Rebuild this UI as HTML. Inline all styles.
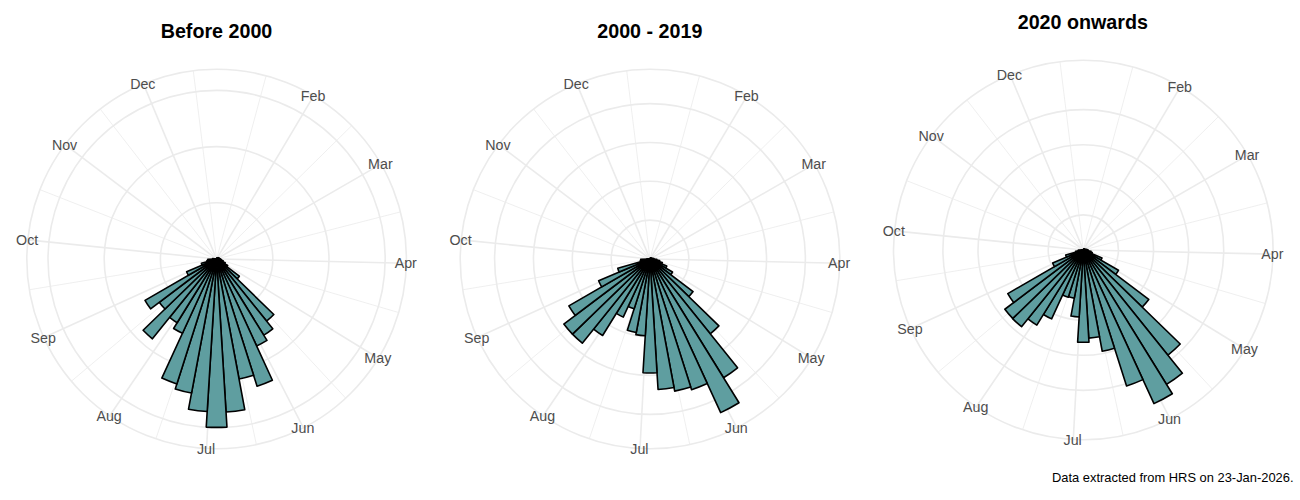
<!DOCTYPE html>
<html><head><meta charset="utf-8"><title>Polar charts</title>
<style>html,body{margin:0;padding:0;background:#fff;width:1300px;height:500px;overflow:hidden}svg{display:block}</style>
</head><body>
<svg width="1300" height="500" viewBox="0 0 1300 500">
<rect width="1300" height="500" fill="#fff"/>
<g><line x1="216.60" y1="259.00" x2="266.13" y2="75.78" stroke="#ebebeb" stroke-width="0.8"/><line x1="216.60" y1="259.00" x2="351.69" y2="125.68" stroke="#ebebeb" stroke-width="0.8"/><line x1="216.60" y1="259.00" x2="400.46" y2="211.90" stroke="#ebebeb" stroke-width="0.8"/><line x1="216.60" y1="259.00" x2="398.69" y2="312.55" stroke="#ebebeb" stroke-width="0.8"/><line x1="216.60" y1="259.00" x2="345.70" y2="398.13" stroke="#ebebeb" stroke-width="0.8"/><line x1="216.60" y1="259.00" x2="256.39" y2="444.58" stroke="#ebebeb" stroke-width="0.8"/><line x1="216.60" y1="259.00" x2="155.89" y2="438.83" stroke="#ebebeb" stroke-width="0.8"/><line x1="216.60" y1="259.00" x2="71.38" y2="381.21" stroke="#ebebeb" stroke-width="0.8"/><line x1="216.60" y1="259.00" x2="29.31" y2="289.76" stroke="#ebebeb" stroke-width="0.8"/><line x1="216.60" y1="259.00" x2="39.92" y2="189.66" stroke="#ebebeb" stroke-width="0.8"/><line x1="216.60" y1="259.00" x2="100.23" y2="109.06" stroke="#ebebeb" stroke-width="0.8"/><line x1="216.60" y1="259.00" x2="193.28" y2="70.64" stroke="#ebebeb" stroke-width="0.8"/><line x1="216.60" y1="259.00" x2="313.66" y2="95.90" stroke="#ebebeb" stroke-width="1.6"/><line x1="216.60" y1="259.00" x2="380.97" y2="164.10" stroke="#ebebeb" stroke-width="1.6"/><line x1="216.60" y1="259.00" x2="406.35" y2="263.18" stroke="#ebebeb" stroke-width="1.6"/><line x1="216.60" y1="259.00" x2="378.41" y2="358.21" stroke="#ebebeb" stroke-width="1.6"/><line x1="216.60" y1="259.00" x2="303.44" y2="427.77" stroke="#ebebeb" stroke-width="1.6"/><line x1="216.60" y1="259.00" x2="206.58" y2="448.54" stroke="#ebebeb" stroke-width="1.6"/><line x1="216.60" y1="259.00" x2="109.68" y2="415.82" stroke="#ebebeb" stroke-width="1.6"/><line x1="216.60" y1="259.00" x2="43.83" y2="337.57" stroke="#ebebeb" stroke-width="1.6"/><line x1="216.60" y1="259.00" x2="27.77" y2="239.83" stroke="#ebebeb" stroke-width="1.6"/><line x1="216.60" y1="259.00" x2="65.14" y2="144.62" stroke="#ebebeb" stroke-width="1.6"/><line x1="216.60" y1="259.00" x2="143.39" y2="83.89" stroke="#ebebeb" stroke-width="1.6"/><circle cx="216.60" cy="259.00" r="56.20" fill="none" stroke="#ebebeb" stroke-width="1.6"/><circle cx="216.60" cy="259.00" r="112.40" fill="none" stroke="#ebebeb" stroke-width="1.6"/><circle cx="216.60" cy="259.00" r="168.60" fill="none" stroke="#ebebeb" stroke-width="1.6"/><circle cx="216.60" cy="259.00" r="189.80" fill="none" stroke="#ebebeb" stroke-width="1.6"/></g>
<g fill="#5f9ea0" stroke="#000" stroke-width="1.6" stroke-linejoin="round"><path d="M216.60 259.00L216.60 258.60A0.40 0.40 0 0 1 216.65 258.60Z"/><path d="M216.60 259.00L216.66 258.50A0.50 0.50 0 0 1 216.72 258.52Z"/><path d="M216.60 259.00L216.75 258.42A0.60 0.60 0 0 1 216.82 258.44Z"/><path d="M216.60 259.00L216.89 258.25A0.80 0.80 0 0 1 216.98 258.30Z"/><path d="M216.60 259.00L217.07 258.12A1.00 1.00 0 0 1 217.18 258.18Z"/><path d="M216.60 259.00L217.35 257.94A1.30 1.30 0 0 1 217.48 258.04Z"/><path d="M216.60 259.00L217.68 257.82A1.60 1.60 0 0 1 217.82 257.96Z"/><path d="M216.60 259.00L218.12 257.70A2.00 2.00 0 0 1 218.27 257.90Z"/><path d="M216.60 259.00L218.27 257.90A2.00 2.00 0 0 1 218.39 258.11Z"/><path d="M216.60 259.00L218.57 258.02A2.20 2.20 0 0 1 218.67 258.27Z"/><path d="M216.60 259.00L218.96 258.17A2.50 2.50 0 0 1 219.04 258.47Z"/><path d="M216.60 259.00L219.53 258.36A3.00 3.00 0 0 1 219.59 258.72Z"/><path d="M216.60 259.00L220.09 258.68A3.50 3.50 0 0 1 220.10 259.11Z"/><path d="M216.60 259.00L220.80 259.13A4.20 4.20 0 0 1 220.75 259.64Z"/><path d="M216.60 259.00L221.54 259.77A5.00 5.00 0 0 1 221.41 260.37Z"/><path d="M216.60 259.00L223.14 260.86A6.80 6.80 0 0 1 222.86 261.65Z"/><path d="M216.60 259.00L225.26 262.66A9.40 9.40 0 0 1 224.74 263.70Z"/><path d="M216.60 259.00L227.69 265.40A12.80 12.80 0 0 1 226.81 266.71Z"/><path d="M216.60 259.00L239.34 276.18A28.50 28.50 0 0 1 237.06 278.84Z"/><path d="M216.60 259.00L273.82 314.48A79.70 79.70 0 0 1 266.57 321.09Z"/><path d="M216.60 259.00L272.77 328.81A89.60 89.60 0 0 1 263.77 335.18Z"/><path d="M216.60 259.00L266.98 340.37A95.70 95.70 0 0 1 256.60 345.94Z"/><path d="M216.60 259.00L272.40 380.28A133.50 133.50 0 0 1 257.07 386.22Z"/><path d="M216.60 259.00L253.61 375.35A122.10 122.10 0 0 1 239.04 379.02Z"/><path d="M216.60 259.00L244.77 409.69A153.30 153.30 0 0 1 226.04 412.01Z"/><path d="M216.60 259.00L226.97 427.08A168.40 168.40 0 0 1 206.23 427.08Z"/><path d="M216.60 259.00L207.19 411.51A152.80 152.80 0 0 1 188.52 409.20Z"/><path d="M216.60 259.00L191.54 393.08A136.40 136.40 0 0 1 175.25 388.98Z"/><path d="M216.60 259.00L176.86 383.93A131.10 131.10 0 0 1 161.81 378.10Z"/><path d="M216.60 259.00L182.45 333.22A81.70 81.70 0 0 1 173.59 328.46Z"/><path d="M216.60 259.00L177.12 322.77A75.00 75.00 0 0 1 169.58 317.43Z"/><path d="M216.60 259.00L152.40 338.78A102.40 102.40 0 0 1 143.09 330.28Z"/><path d="M216.60 259.00L164.98 309.05A71.90 71.90 0 0 1 159.22 302.33Z"/><path d="M216.60 259.00L150.60 308.84A82.70 82.70 0 0 1 144.98 300.35Z"/><path d="M216.60 259.00L188.37 275.30A32.60 32.60 0 0 1 186.58 271.71Z"/><path d="M216.60 259.00L202.05 265.16A15.80 15.80 0 0 1 201.40 263.32Z"/><path d="M216.60 259.00L207.17 261.68A9.80 9.80 0 0 1 206.92 260.50Z"/><path d="M216.60 259.00L207.90 260.35A8.80 8.80 0 0 1 207.80 259.27Z"/><path d="M216.60 259.00L212.60 259.12A4.00 4.00 0 0 1 212.62 258.63Z"/><path d="M216.60 259.00L216.10 258.95A0.50 0.50 0 0 1 216.11 258.89Z"/><path d="M216.60 259.00L216.31 258.94A0.30 0.30 0 0 1 216.32 258.90Z"/><path d="M216.60 259.00L216.32 258.90A0.30 0.30 0 0 1 216.33 258.87Z"/><path d="M216.60 259.00L216.33 258.87A0.30 0.30 0 0 1 216.35 258.83Z"/><path d="M216.60 259.00L216.35 258.83A0.30 0.30 0 0 1 216.37 258.80Z"/><path d="M216.60 259.00L216.37 258.80A0.30 0.30 0 0 1 216.40 258.78Z"/><path d="M216.60 259.00L216.40 258.78A0.30 0.30 0 0 1 216.43 258.76Z"/><path d="M216.60 259.00L216.43 258.76A0.30 0.30 0 0 1 216.46 258.74Z"/><path d="M216.60 259.00L216.46 258.74A0.30 0.30 0 0 1 216.49 258.72Z"/><path d="M216.60 259.00L216.49 258.72A0.30 0.30 0 0 1 216.53 258.71Z"/><path d="M216.60 259.00L216.53 258.71A0.30 0.30 0 0 1 216.56 258.70Z"/><path d="M216.60 259.00L216.56 258.70A0.30 0.30 0 0 1 216.60 258.70Z"/></g>
<g font-family="Liberation Sans, Arial, sans-serif" font-size="14.25" fill="#4d4d4d" text-anchor="middle"><text transform="translate(313.06 100.90) scale(1 1.07)">Feb</text><text transform="translate(380.37 169.10) scale(1 1.07)">Mar</text><text transform="translate(405.75 268.18) scale(1 1.07)">Apr</text><text transform="translate(377.81 363.21) scale(1 1.07)">May</text><text transform="translate(302.84 432.77) scale(1 1.07)">Jun</text><text transform="translate(205.98 453.54) scale(1 1.07)">Jul</text><text transform="translate(109.08 420.82) scale(1 1.07)">Aug</text><text transform="translate(43.23 342.57) scale(1 1.07)">Sep</text><text transform="translate(27.17 244.83) scale(1 1.07)">Oct</text><text transform="translate(64.54 149.62) scale(1 1.07)">Nov</text><text transform="translate(142.79 88.89) scale(1 1.07)">Dec</text></g>
<text x="216.50" y="37.80" font-family="Liberation Sans, Arial, sans-serif" font-size="19.7" font-weight="bold" fill="#000" text-anchor="middle">Before 2000</text>
<g><line x1="650.00" y1="259.00" x2="699.53" y2="75.78" stroke="#ebebeb" stroke-width="0.8"/><line x1="650.00" y1="259.00" x2="785.09" y2="125.68" stroke="#ebebeb" stroke-width="0.8"/><line x1="650.00" y1="259.00" x2="833.86" y2="211.90" stroke="#ebebeb" stroke-width="0.8"/><line x1="650.00" y1="259.00" x2="832.09" y2="312.55" stroke="#ebebeb" stroke-width="0.8"/><line x1="650.00" y1="259.00" x2="779.10" y2="398.13" stroke="#ebebeb" stroke-width="0.8"/><line x1="650.00" y1="259.00" x2="689.79" y2="444.58" stroke="#ebebeb" stroke-width="0.8"/><line x1="650.00" y1="259.00" x2="589.29" y2="438.83" stroke="#ebebeb" stroke-width="0.8"/><line x1="650.00" y1="259.00" x2="504.78" y2="381.21" stroke="#ebebeb" stroke-width="0.8"/><line x1="650.00" y1="259.00" x2="462.71" y2="289.76" stroke="#ebebeb" stroke-width="0.8"/><line x1="650.00" y1="259.00" x2="473.32" y2="189.66" stroke="#ebebeb" stroke-width="0.8"/><line x1="650.00" y1="259.00" x2="533.63" y2="109.06" stroke="#ebebeb" stroke-width="0.8"/><line x1="650.00" y1="259.00" x2="626.68" y2="70.64" stroke="#ebebeb" stroke-width="0.8"/><line x1="650.00" y1="259.00" x2="747.06" y2="95.90" stroke="#ebebeb" stroke-width="1.6"/><line x1="650.00" y1="259.00" x2="814.37" y2="164.10" stroke="#ebebeb" stroke-width="1.6"/><line x1="650.00" y1="259.00" x2="839.75" y2="263.18" stroke="#ebebeb" stroke-width="1.6"/><line x1="650.00" y1="259.00" x2="811.81" y2="358.21" stroke="#ebebeb" stroke-width="1.6"/><line x1="650.00" y1="259.00" x2="736.84" y2="427.77" stroke="#ebebeb" stroke-width="1.6"/><line x1="650.00" y1="259.00" x2="639.98" y2="448.54" stroke="#ebebeb" stroke-width="1.6"/><line x1="650.00" y1="259.00" x2="543.08" y2="415.82" stroke="#ebebeb" stroke-width="1.6"/><line x1="650.00" y1="259.00" x2="477.23" y2="337.57" stroke="#ebebeb" stroke-width="1.6"/><line x1="650.00" y1="259.00" x2="461.17" y2="239.83" stroke="#ebebeb" stroke-width="1.6"/><line x1="650.00" y1="259.00" x2="498.54" y2="144.62" stroke="#ebebeb" stroke-width="1.6"/><line x1="650.00" y1="259.00" x2="576.79" y2="83.89" stroke="#ebebeb" stroke-width="1.6"/><circle cx="650.00" cy="259.00" r="38.85" fill="none" stroke="#ebebeb" stroke-width="1.6"/><circle cx="650.00" cy="259.00" r="77.70" fill="none" stroke="#ebebeb" stroke-width="1.6"/><circle cx="650.00" cy="259.00" r="116.55" fill="none" stroke="#ebebeb" stroke-width="1.6"/><circle cx="650.00" cy="259.00" r="155.40" fill="none" stroke="#ebebeb" stroke-width="1.6"/><circle cx="650.00" cy="259.00" r="189.80" fill="none" stroke="#ebebeb" stroke-width="1.6"/></g>
<g fill="#5f9ea0" stroke="#000" stroke-width="1.6" stroke-linejoin="round"><path d="M650.00 259.00L650.00 258.60A0.40 0.40 0 0 1 650.05 258.60Z"/><path d="M650.00 259.00L650.06 258.50A0.50 0.50 0 0 1 650.12 258.52Z"/><path d="M650.00 259.00L650.15 258.42A0.60 0.60 0 0 1 650.22 258.44Z"/><path d="M650.00 259.00L650.25 258.35A0.70 0.70 0 0 1 650.33 258.38Z"/><path d="M650.00 259.00L650.38 258.30A0.80 0.80 0 0 1 650.46 258.35Z"/><path d="M650.00 259.00L650.58 258.18A1.00 1.00 0 0 1 650.67 258.26Z"/><path d="M650.00 259.00L650.67 258.26A1.00 1.00 0 0 1 650.76 258.35Z"/><path d="M650.00 259.00L650.91 258.22A1.20 1.20 0 0 1 651.00 258.34Z"/><path d="M650.00 259.00L651.25 258.17A1.50 1.50 0 0 1 651.34 258.33Z"/><path d="M650.00 259.00L651.34 258.33A1.50 1.50 0 0 1 651.41 258.50Z"/><path d="M650.00 259.00L651.89 258.34A2.00 2.00 0 0 1 651.95 258.57Z"/><path d="M650.00 259.00L652.93 258.36A3.00 3.00 0 0 1 652.99 258.72Z"/><path d="M650.00 259.00L653.98 258.63A4.00 4.00 0 0 1 654.00 259.12Z"/><path d="M650.00 259.00L656.80 259.21A6.80 6.80 0 0 1 656.72 260.04Z"/><path d="M650.00 259.00L659.68 260.50A9.80 9.80 0 0 1 659.43 261.68Z"/><path d="M650.00 259.00L662.31 262.50A12.80 12.80 0 0 1 661.79 263.99Z"/><path d="M650.00 259.00L666.76 266.09A18.20 18.20 0 0 1 665.76 268.10Z"/><path d="M650.00 259.00L672.52 272.00A26.00 26.00 0 0 1 670.75 274.67Z"/><path d="M650.00 259.00L693.09 291.54A54.00 54.00 0 0 1 688.77 296.59Z"/><path d="M650.00 259.00L718.92 325.83A96.00 96.00 0 0 1 710.18 333.79Z"/><path d="M650.00 259.00L737.58 367.84A139.70 139.70 0 0 1 723.54 377.78Z"/><path d="M650.00 259.00L739.02 402.77A169.10 169.10 0 0 1 720.68 412.62Z"/><path d="M650.00 259.00L707.30 383.55A137.10 137.10 0 0 1 691.56 389.65Z"/><path d="M650.00 259.00L690.74 387.08A134.40 134.40 0 0 1 674.70 391.11Z"/><path d="M650.00 259.00L674.03 387.57A130.80 130.80 0 0 1 658.05 389.55Z"/><path d="M650.00 259.00L657.02 372.78A114.00 114.00 0 0 1 642.98 372.78Z"/><path d="M650.00 259.00L645.27 335.75A76.90 76.90 0 0 1 635.87 334.59Z"/><path d="M650.00 259.00L636.26 332.53A74.80 74.80 0 0 1 627.32 330.28Z"/><path d="M650.00 259.00L634.18 308.74A52.20 52.20 0 0 1 628.18 306.42Z"/><path d="M650.00 259.00L623.25 317.14A64.00 64.00 0 0 1 616.31 313.41Z"/><path d="M650.00 259.00L602.62 335.52A90.00 90.00 0 0 1 593.58 329.12Z"/><path d="M650.00 259.00L582.29 343.14A108.00 108.00 0 0 1 572.47 334.18Z"/><path d="M650.00 259.00L572.47 334.18A108.00 108.00 0 0 1 563.81 324.08Z"/><path d="M650.00 259.00L575.23 315.47A93.70 93.70 0 0 1 568.85 305.85Z"/><path d="M650.00 259.00L601.68 286.90A55.80 55.80 0 0 1 598.61 280.75Z"/><path d="M650.00 259.00L619.15 272.06A33.50 33.50 0 0 1 617.78 268.17Z"/><path d="M650.00 259.00L640.57 261.68A9.80 9.80 0 0 1 640.32 260.50Z"/><path d="M650.00 259.00L640.81 260.43A9.30 9.30 0 0 1 640.70 259.29Z"/><path d="M650.00 259.00L647.00 259.09A3.00 3.00 0 0 1 647.01 258.72Z"/><path d="M650.00 259.00L649.50 258.95A0.50 0.50 0 0 1 649.51 258.89Z"/><path d="M650.00 259.00L649.71 258.94A0.30 0.30 0 0 1 649.72 258.90Z"/><path d="M650.00 259.00L649.72 258.90A0.30 0.30 0 0 1 649.73 258.87Z"/><path d="M650.00 259.00L649.73 258.87A0.30 0.30 0 0 1 649.75 258.83Z"/><path d="M650.00 259.00L649.75 258.83A0.30 0.30 0 0 1 649.77 258.80Z"/><path d="M650.00 259.00L649.77 258.80A0.30 0.30 0 0 1 649.80 258.78Z"/><path d="M650.00 259.00L649.80 258.78A0.30 0.30 0 0 1 649.83 258.76Z"/><path d="M650.00 259.00L649.83 258.76A0.30 0.30 0 0 1 649.86 258.74Z"/><path d="M650.00 259.00L649.86 258.74A0.30 0.30 0 0 1 649.89 258.72Z"/><path d="M650.00 259.00L649.89 258.72A0.30 0.30 0 0 1 649.93 258.71Z"/><path d="M650.00 259.00L649.93 258.71A0.30 0.30 0 0 1 649.96 258.70Z"/><path d="M650.00 259.00L649.96 258.70A0.30 0.30 0 0 1 650.00 258.70Z"/></g>
<g font-family="Liberation Sans, Arial, sans-serif" font-size="14.25" fill="#4d4d4d" text-anchor="middle"><text transform="translate(746.46 100.90) scale(1 1.07)">Feb</text><text transform="translate(813.77 169.10) scale(1 1.07)">Mar</text><text transform="translate(839.15 268.18) scale(1 1.07)">Apr</text><text transform="translate(811.21 363.21) scale(1 1.07)">May</text><text transform="translate(736.24 432.77) scale(1 1.07)">Jun</text><text transform="translate(639.38 453.54) scale(1 1.07)">Jul</text><text transform="translate(542.48 420.82) scale(1 1.07)">Aug</text><text transform="translate(476.63 342.57) scale(1 1.07)">Sep</text><text transform="translate(460.57 244.83) scale(1 1.07)">Oct</text><text transform="translate(497.94 149.62) scale(1 1.07)">Nov</text><text transform="translate(576.19 88.89) scale(1 1.07)">Dec</text></g>
<text x="649.80" y="37.80" font-family="Liberation Sans, Arial, sans-serif" font-size="19.7" font-weight="bold" fill="#000" text-anchor="middle">2000 - 2019</text>
<g><line x1="1083.30" y1="250.00" x2="1132.83" y2="66.78" stroke="#ebebeb" stroke-width="0.8"/><line x1="1083.30" y1="250.00" x2="1218.39" y2="116.68" stroke="#ebebeb" stroke-width="0.8"/><line x1="1083.30" y1="250.00" x2="1267.16" y2="202.90" stroke="#ebebeb" stroke-width="0.8"/><line x1="1083.30" y1="250.00" x2="1265.39" y2="303.55" stroke="#ebebeb" stroke-width="0.8"/><line x1="1083.30" y1="250.00" x2="1212.40" y2="389.13" stroke="#ebebeb" stroke-width="0.8"/><line x1="1083.30" y1="250.00" x2="1123.09" y2="435.58" stroke="#ebebeb" stroke-width="0.8"/><line x1="1083.30" y1="250.00" x2="1022.59" y2="429.83" stroke="#ebebeb" stroke-width="0.8"/><line x1="1083.30" y1="250.00" x2="938.08" y2="372.21" stroke="#ebebeb" stroke-width="0.8"/><line x1="1083.30" y1="250.00" x2="896.01" y2="280.76" stroke="#ebebeb" stroke-width="0.8"/><line x1="1083.30" y1="250.00" x2="906.62" y2="180.66" stroke="#ebebeb" stroke-width="0.8"/><line x1="1083.30" y1="250.00" x2="966.93" y2="100.06" stroke="#ebebeb" stroke-width="0.8"/><line x1="1083.30" y1="250.00" x2="1059.98" y2="61.64" stroke="#ebebeb" stroke-width="0.8"/><line x1="1083.30" y1="250.00" x2="1180.36" y2="86.90" stroke="#ebebeb" stroke-width="1.6"/><line x1="1083.30" y1="250.00" x2="1247.67" y2="155.10" stroke="#ebebeb" stroke-width="1.6"/><line x1="1083.30" y1="250.00" x2="1273.05" y2="254.18" stroke="#ebebeb" stroke-width="1.6"/><line x1="1083.30" y1="250.00" x2="1245.11" y2="349.21" stroke="#ebebeb" stroke-width="1.6"/><line x1="1083.30" y1="250.00" x2="1170.14" y2="418.77" stroke="#ebebeb" stroke-width="1.6"/><line x1="1083.30" y1="250.00" x2="1073.28" y2="439.54" stroke="#ebebeb" stroke-width="1.6"/><line x1="1083.30" y1="250.00" x2="976.38" y2="406.82" stroke="#ebebeb" stroke-width="1.6"/><line x1="1083.30" y1="250.00" x2="910.53" y2="328.57" stroke="#ebebeb" stroke-width="1.6"/><line x1="1083.30" y1="250.00" x2="894.47" y2="230.83" stroke="#ebebeb" stroke-width="1.6"/><line x1="1083.30" y1="250.00" x2="931.84" y2="135.62" stroke="#ebebeb" stroke-width="1.6"/><line x1="1083.30" y1="250.00" x2="1010.09" y2="74.89" stroke="#ebebeb" stroke-width="1.6"/><circle cx="1083.30" cy="250.00" r="35.10" fill="none" stroke="#ebebeb" stroke-width="1.6"/><circle cx="1083.30" cy="250.00" r="70.20" fill="none" stroke="#ebebeb" stroke-width="1.6"/><circle cx="1083.30" cy="250.00" r="105.30" fill="none" stroke="#ebebeb" stroke-width="1.6"/><circle cx="1083.30" cy="250.00" r="140.40" fill="none" stroke="#ebebeb" stroke-width="1.6"/><circle cx="1083.30" cy="250.00" r="189.80" fill="none" stroke="#ebebeb" stroke-width="1.6"/></g>
<g fill="#5f9ea0" stroke="#000" stroke-width="1.6" stroke-linejoin="round"><path d="M1083.30 250.00L1083.30 249.60A0.40 0.40 0 0 1 1083.35 249.60Z"/><path d="M1083.30 250.00L1083.36 249.50A0.50 0.50 0 0 1 1083.42 249.52Z"/><path d="M1083.30 250.00L1083.45 249.42A0.60 0.60 0 0 1 1083.52 249.44Z"/><path d="M1083.30 250.00L1083.55 249.35A0.70 0.70 0 0 1 1083.63 249.38Z"/><path d="M1083.30 250.00L1083.68 249.30A0.80 0.80 0 0 1 1083.76 249.35Z"/><path d="M1083.30 250.00L1083.88 249.18A1.00 1.00 0 0 1 1083.97 249.26Z"/><path d="M1083.30 250.00L1083.97 249.26A1.00 1.00 0 0 1 1084.06 249.35Z"/><path d="M1083.30 250.00L1084.21 249.22A1.20 1.20 0 0 1 1084.30 249.34Z"/><path d="M1083.30 250.00L1084.55 249.17A1.50 1.50 0 0 1 1084.64 249.33Z"/><path d="M1083.30 250.00L1084.64 249.33A1.50 1.50 0 0 1 1084.71 249.50Z"/><path d="M1083.30 250.00L1085.19 249.34A2.00 2.00 0 0 1 1085.25 249.57Z"/><path d="M1083.30 250.00L1086.23 249.36A3.00 3.00 0 0 1 1086.29 249.72Z"/><path d="M1083.30 250.00L1087.28 249.63A4.00 4.00 0 0 1 1087.30 250.12Z"/><path d="M1083.30 250.00L1088.30 250.15A5.00 5.00 0 0 1 1088.24 250.77Z"/><path d="M1083.30 250.00L1091.01 251.20A7.80 7.80 0 0 1 1090.80 252.13Z"/><path d="M1083.30 250.00L1092.24 252.55A9.30 9.30 0 0 1 1091.86 253.63Z"/><path d="M1083.30 250.00L1101.99 257.91A20.30 20.30 0 0 1 1100.88 260.15Z"/><path d="M1083.30 250.00L1118.46 270.30A40.60 40.60 0 0 1 1115.70 274.47Z"/><path d="M1083.30 250.00L1148.74 299.42A82.00 82.00 0 0 1 1142.17 307.08Z"/><path d="M1083.30 250.00L1180.22 343.98A135.00 135.00 0 0 1 1167.93 355.18Z"/><path d="M1083.30 250.00L1182.42 373.17A158.10 158.10 0 0 1 1166.53 384.42Z"/><path d="M1083.30 250.00L1172.32 393.77A169.10 169.10 0 0 1 1153.98 403.62Z"/><path d="M1083.30 250.00L1142.94 379.64A142.70 142.70 0 0 1 1126.56 385.98Z"/><path d="M1083.30 250.00L1114.52 348.15A103.00 103.00 0 0 1 1102.23 351.25Z"/><path d="M1083.30 250.00L1099.53 336.80A88.30 88.30 0 0 1 1088.74 338.13Z"/><path d="M1083.30 250.00L1088.98 342.12A92.30 92.30 0 0 1 1077.62 342.12Z"/><path d="M1083.30 250.00L1079.16 317.07A67.20 67.20 0 0 1 1070.95 316.06Z"/><path d="M1083.30 250.00L1074.30 298.17A49.00 49.00 0 0 1 1068.45 296.69Z"/><path d="M1083.30 250.00L1068.26 297.27A49.60 49.60 0 0 1 1062.57 295.06Z"/><path d="M1083.30 250.00L1051.62 318.86A75.80 75.80 0 0 1 1043.40 314.45Z"/><path d="M1083.30 250.00L1036.82 325.07A88.30 88.30 0 0 1 1027.94 318.79Z"/><path d="M1083.30 250.00L1021.55 326.74A98.50 98.50 0 0 1 1012.59 318.57Z"/><path d="M1083.30 250.00L1012.73 318.43A98.30 98.30 0 0 1 1004.85 309.24Z"/><path d="M1083.30 250.00L1013.71 302.55A87.20 87.20 0 0 1 1007.78 293.60Z"/><path d="M1083.30 250.00L1054.46 266.65A33.30 33.30 0 0 1 1052.63 262.98Z"/><path d="M1083.30 250.00L1066.45 257.13A18.30 18.30 0 0 1 1065.70 255.01Z"/><path d="M1083.30 250.00L1075.80 252.13A7.80 7.80 0 0 1 1075.59 251.20Z"/><path d="M1083.30 250.00L1078.36 250.77A5.00 5.00 0 0 1 1078.30 250.15Z"/><path d="M1083.30 250.00L1081.30 250.06A2.00 2.00 0 0 1 1081.31 249.82Z"/><path d="M1083.30 250.00L1082.80 249.95A0.50 0.50 0 0 1 1082.81 249.89Z"/><path d="M1083.30 250.00L1083.01 249.94A0.30 0.30 0 0 1 1083.02 249.90Z"/><path d="M1083.30 250.00L1083.02 249.90A0.30 0.30 0 0 1 1083.03 249.87Z"/><path d="M1083.30 250.00L1083.03 249.87A0.30 0.30 0 0 1 1083.05 249.83Z"/><path d="M1083.30 250.00L1083.05 249.83A0.30 0.30 0 0 1 1083.07 249.80Z"/><path d="M1083.30 250.00L1083.07 249.80A0.30 0.30 0 0 1 1083.10 249.78Z"/><path d="M1083.30 250.00L1083.10 249.78A0.30 0.30 0 0 1 1083.13 249.76Z"/><path d="M1083.30 250.00L1083.13 249.76A0.30 0.30 0 0 1 1083.16 249.74Z"/><path d="M1083.30 250.00L1083.16 249.74A0.30 0.30 0 0 1 1083.19 249.72Z"/><path d="M1083.30 250.00L1083.19 249.72A0.30 0.30 0 0 1 1083.23 249.71Z"/><path d="M1083.30 250.00L1083.23 249.71A0.30 0.30 0 0 1 1083.26 249.70Z"/><path d="M1083.30 250.00L1083.26 249.70A0.30 0.30 0 0 1 1083.30 249.70Z"/></g>
<g font-family="Liberation Sans, Arial, sans-serif" font-size="14.25" fill="#4d4d4d" text-anchor="middle"><text transform="translate(1179.76 91.90) scale(1 1.07)">Feb</text><text transform="translate(1247.07 160.10) scale(1 1.07)">Mar</text><text transform="translate(1272.45 259.18) scale(1 1.07)">Apr</text><text transform="translate(1244.51 354.21) scale(1 1.07)">May</text><text transform="translate(1169.54 423.77) scale(1 1.07)">Jun</text><text transform="translate(1072.68 444.54) scale(1 1.07)">Jul</text><text transform="translate(975.78 411.82) scale(1 1.07)">Aug</text><text transform="translate(909.93 333.57) scale(1 1.07)">Sep</text><text transform="translate(893.87 235.83) scale(1 1.07)">Oct</text><text transform="translate(931.24 140.62) scale(1 1.07)">Nov</text><text transform="translate(1009.49 79.89) scale(1 1.07)">Dec</text></g>
<text x="1082.80" y="28.65" font-family="Liberation Sans, Arial, sans-serif" font-size="19.7" font-weight="bold" fill="#000" text-anchor="middle">2020 onwards</text>
<text x="1293.5" y="481.6" font-family="Liberation Sans, Arial, sans-serif" font-size="12.9" fill="#000" text-anchor="end">Data extracted from HRS on 23-Jan-2026.</text>
</svg>
</body></html>
